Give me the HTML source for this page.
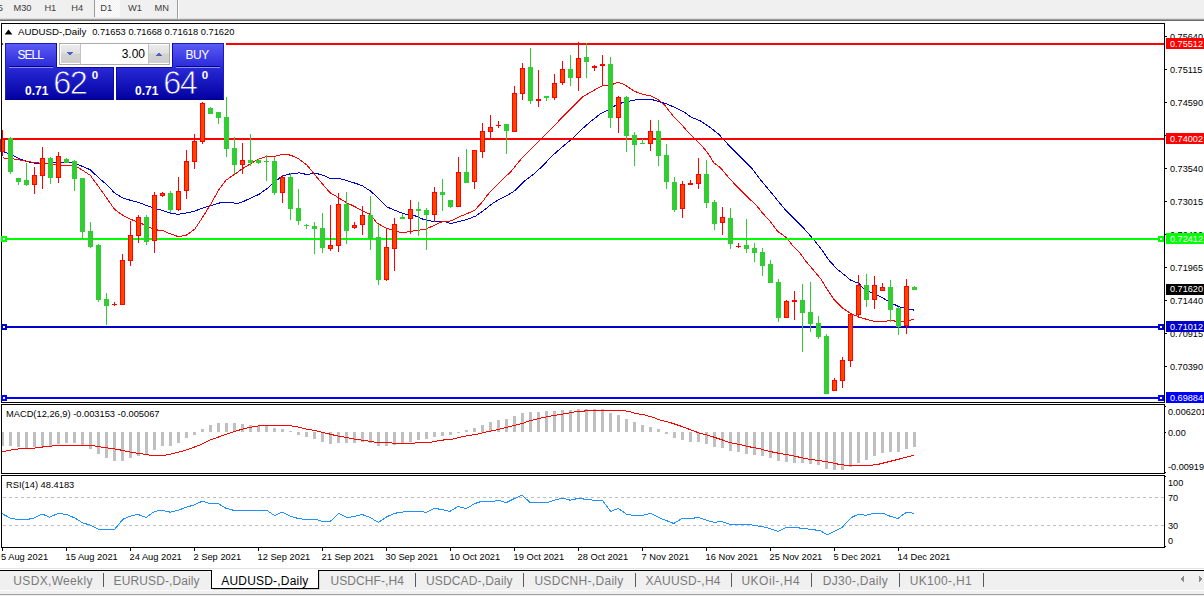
<!DOCTYPE html>
<html><head><meta charset="utf-8"><title>AUDUSD-,Daily</title>
<style>
html,body{margin:0;padding:0;background:#fff;overflow:hidden}
body{width:1204px;height:596px;font-family:"Liberation Sans",sans-serif}
svg{display:block;font-family:"Liberation Sans",sans-serif}
rect,polyline,line,polygon{shape-rendering:crispEdges}
</style></head><body>
<svg width="1204" height="596" viewBox="0 0 1204 596">
<defs>
<linearGradient id="gb" x1="0" y1="0" x2="0" y2="1"><stop offset="0" stop-color="#5c5cf8"/><stop offset="1" stop-color="#2a2ad8"/></linearGradient>
<linearGradient id="gp" x1="0" y1="0" x2="0" y2="1"><stop offset="0" stop-color="#2a2ad8"/><stop offset="1" stop-color="#0000a0"/></linearGradient>
<linearGradient id="gp2" gradientUnits="userSpaceOnUse" x1="0" y1="67" x2="0" y2="100"><stop offset="0" stop-color="#2a2ad8"/><stop offset="1" stop-color="#0000a0"/></linearGradient>
<pattern id="hatch" width="2" height="2" patternUnits="userSpaceOnUse"><rect width="2" height="2" fill="#f0f0f0"/><rect width="1" height="1" fill="#fff"/><rect x="1" y="1" width="1" height="1" fill="#fff"/></pattern>
<linearGradient id="gs" x1="0" y1="0" x2="0" y2="1"><stop offset="0" stop-color="#ececec"/><stop offset="0.45" stop-color="#e0e0e0"/><stop offset="0.5" stop-color="#d2d2d2"/><stop offset="1" stop-color="#cfcfcf"/></linearGradient>
</defs>
<rect x="0" y="0" width="1204" height="18" fill="#f0f0f0"/>
<rect x="0" y="18" width="1204" height="1" fill="#dcdcdc"/>
<rect x="0" y="19" width="1204" height="1" fill="#a0a0a0"/>
<rect x="0" y="20" width="1204" height="1" fill="#696969"/>
<rect x="95" y="0" width="25" height="17" fill="url(#hatch)"/>
<rect x="94" y="0" width="1" height="17" fill="#9a9a9a"/>
<rect x="177" y="0" width="1" height="19" fill="#a0a0a0"/>
<rect x="178" y="0" width="1" height="19" fill="#ffffff"/>
<text x="-2.2" y="10.8" font-size="9.3" fill="#3c3c3c" text-anchor="start" font-weight="normal">5</text>
<text x="13.4" y="10.8" font-size="9.3" fill="#3c3c3c" text-anchor="start" font-weight="normal">M30</text>
<text x="44.4" y="10.8" font-size="9.3" fill="#3c3c3c" text-anchor="start" font-weight="normal">H1</text>
<text x="71.3" y="10.8" font-size="9.3" fill="#3c3c3c" text-anchor="start" font-weight="normal">H4</text>
<text x="100.2" y="10.8" font-size="9.3" fill="#3c3c3c" text-anchor="start" font-weight="normal">D1</text>
<text x="128.0" y="10.8" font-size="9.3" fill="#3c3c3c" text-anchor="start" font-weight="normal">W1</text>
<text x="154.4" y="10.8" font-size="9.3" fill="#3c3c3c" text-anchor="start" font-weight="normal">MN</text>
<rect x="1" y="23" width="1164" height="1" fill="#000"/>
<rect x="1" y="23" width="1" height="380" fill="#000"/>
<rect x="1" y="402" width="1164" height="1" fill="#000"/>
<rect x="1" y="404" width="1164" height="1" fill="#000"/>
<rect x="1" y="404" width="1" height="70" fill="#000"/>
<rect x="1" y="473" width="1164" height="1" fill="#000"/>
<rect x="1" y="475" width="1164" height="1" fill="#000"/>
<rect x="1" y="475" width="1" height="73" fill="#000"/>
<rect x="1" y="547" width="1164" height="1" fill="#000"/>
<rect x="1164" y="23" width="1" height="380" fill="#000"/>
<rect x="1164" y="404" width="1" height="70" fill="#000"/>
<rect x="1164" y="475" width="1" height="73" fill="#000"/>
<rect x="1165" y="36" width="2" height="1" fill="#000"/>
<text x="1170" y="39.9" font-size="9.15" fill="#000" text-anchor="start" font-weight="normal">0.75640</text>
<rect x="1165" y="69" width="2" height="1" fill="#000"/>
<text x="1170" y="72.9" font-size="9.15" fill="#000" text-anchor="start" font-weight="normal">0.75115</text>
<rect x="1165" y="102" width="2" height="1" fill="#000"/>
<text x="1170" y="105.9" font-size="9.15" fill="#000" text-anchor="start" font-weight="normal">0.74590</text>
<rect x="1165" y="135" width="2" height="1" fill="#000"/>
<text x="1170" y="138.9" font-size="9.15" fill="#000" text-anchor="start" font-weight="normal">0.74065</text>
<rect x="1165" y="168" width="2" height="1" fill="#000"/>
<text x="1170" y="171.9" font-size="9.15" fill="#000" text-anchor="start" font-weight="normal">0.73540</text>
<rect x="1165" y="201" width="2" height="1" fill="#000"/>
<text x="1170" y="204.9" font-size="9.15" fill="#000" text-anchor="start" font-weight="normal">0.73015</text>
<rect x="1165" y="234" width="2" height="1" fill="#000"/>
<text x="1170" y="237.9" font-size="9.15" fill="#000" text-anchor="start" font-weight="normal">0.72490</text>
<rect x="1165" y="267" width="2" height="1" fill="#000"/>
<text x="1170" y="270.9" font-size="9.15" fill="#000" text-anchor="start" font-weight="normal">0.71965</text>
<rect x="1165" y="300" width="2" height="1" fill="#000"/>
<text x="1170" y="303.9" font-size="9.15" fill="#000" text-anchor="start" font-weight="normal">0.71440</text>
<rect x="1165" y="333" width="2" height="1" fill="#000"/>
<text x="1170" y="336.9" font-size="9.15" fill="#000" text-anchor="start" font-weight="normal">0.70915</text>
<rect x="1165" y="366" width="2" height="1" fill="#000"/>
<text x="1170" y="369.9" font-size="9.15" fill="#000" text-anchor="start" font-weight="normal">0.70390</text>
<polyline points="2.5,151.3 10.4,154.2 18.5,158.4 26.5,161.4 34.6,163.1 42.4,163.4 50.3,162.9 58.6,162.1 66.4,162.1 74.5,163.4 82.5,166.4 90.4,169.8 98.5,177.7 106.5,184.4 114.4,192.8 122.5,197.8 130.5,200.3 138.4,202.5 146.5,205.4 154.5,208.2 162.4,210.4 170.5,213.3 178.5,214.3 186.4,212.9 194.5,211.2 200.1,209.0 210.1,205.8 220.2,202.8 230.3,202.2 237.0,203.6 242.0,202.2 250.4,198.2 258.8,194.4 267.2,188.5 273.9,182.6 282.3,175.9 290.7,173.7 299.1,172.9 307.4,174.6 315.0,173.1 322.6,175.1 329.3,178.1 339.3,178.4 347.7,180.9 356.1,183.5 362.8,186.0 370.4,191.0 377.9,197.7 386.8,206.8 394.4,210.1 402.4,213.2 410.5,215.5 415.4,216.0 422.1,218.9 430.5,221.0 438.9,221.4 443.9,221.4 450.6,223.6 459.0,221.4 467.4,219.4 475.8,216.0 484.2,210.1 492.6,203.4 501.0,198.4 507.7,195.0 513.9,191.4 524.0,181.4 534.0,173.8 544.1,164.6 550.8,157.0 564.2,145.3 572.6,138.6 582.7,128.5 591.1,121.0 601.1,113.4 609.5,109.2 616.2,105.0 622.9,102.5 630.9,100.8 639.3,99.3 651.1,99.3 657.8,101.3 666.2,103.8 675.4,107.6 683.8,111.8 690.5,116.8 700.5,121.0 710.6,127.8 719.0,134.5 727.4,143.7 735.8,152.1 742.5,158.8 750.9,167.2 760.7,180.1 769.1,190.1 777.4,200.2 785.0,209.4 794.2,218.7 802.6,227.0 809.3,234.6 814.4,240.5 821.1,248.9 828.9,260.1 837.3,269.3 845.7,276.0 850.7,280.2 859.1,283.6 864.2,289.4 874.2,293.6 882.6,297.8 891.0,302.9 898.6,306.5 906.1,308.7 914.0,310.1" fill="none" stroke="#0000cd" stroke-width="1"/>
<polyline points="2.5,157.9 10.4,158.4 18.5,159.7 26.5,161.4 34.6,162.6 42.4,163.4 50.3,164.3 58.6,164.8 66.4,165.4 74.5,165.6 82.5,170.1 90.4,175.5 98.5,186.6 106.5,197.8 114.4,209.1 122.5,215.1 130.5,219.3 138.4,222.1 146.5,225.8 154.5,229.7 162.4,230.5 170.5,233.9 178.5,236.7 186.4,235.2 190.0,232.6 195.0,228.8 201.7,218.7 210.1,205.3 218.5,190.2 226.1,180.1 234.5,174.4 242.5,168.6 250.6,163.8 258.5,159.1 266.5,156.6 274.6,156.3 282.4,154.3 290.5,155.1 298.6,158.8 306.6,164.7 314.2,174.0 322.6,184.2 330.1,192.7 338.5,197.7 346.9,202.8 355.3,206.9 362.5,211.0 370.1,214.3 376.8,222.7 385.2,227.8 391.9,229.8 400.3,232.4 405.3,232.4 410.5,231.4 418.6,230.3 426.4,228.9 434.5,225.2 442.6,221.5 450.6,221.0 458.5,217.2 467.4,213.5 474.9,210.1 482.5,201.7 487.5,195.0 490.4,191.4 502.1,179.7 510.5,172.1 520.6,159.6 530.7,149.5 540.7,139.4 555.8,124.3 560.5,118.9 570.5,108.9 582.3,97.1 590.7,92.1 602.4,85.7 610.8,85.0 618.4,82.3 624.2,84.5 634.3,91.2 642.7,94.3 651.1,95.9 659.5,100.5 665.3,105.9 673.7,116.8 682.1,125.2 687.1,131.1 695.5,139.5 702.2,146.2 707.2,152.1 714.0,163.0 720.7,168.0 729.1,178.1 738.9,188.5 748.9,198.5 755.6,204.4 762.3,212.8 770.7,222.0 777.4,231.2 785.8,237.1 792.6,245.5 799.3,252.2 806.0,261.4 812.1,268.5 820.5,278.5 827.2,289.4 834.0,299.5 842.3,307.9 850.7,313.4 859.1,317.1 867.5,319.6 874.2,321.3 884.3,321.6 891.0,320.1 898.6,322.1 906.1,321.3 914.0,319.1" fill="none" stroke="#ff0000" stroke-width="1"/>
<rect x="2" y="43" width="1162" height="2" fill="#ff0000"/>
<rect x="1166" y="38" width="38" height="11" fill="#ff0000"/>
<text x="1170" y="47.2" font-size="9.15" fill="#fff" text-anchor="start" font-weight="normal">0.75512</text>
<rect x="2" y="138" width="1162" height="2" fill="#ff0000"/>
<rect x="1166" y="133" width="38" height="11" fill="#ff0000"/>
<text x="1170" y="142.2" font-size="9.15" fill="#fff" text-anchor="start" font-weight="normal">0.74002</text>
<rect x="2" y="238" width="1162" height="2" fill="#00ff00"/>
<rect x="1" y="236" width="6" height="6" fill="#00ff00"/>
<rect x="3" y="238" width="2" height="2" fill="#fff"/>
<rect x="1158" y="236" width="6" height="6" fill="#00ff00"/>
<rect x="1160" y="238" width="2" height="2" fill="#fff"/>
<rect x="1166" y="233" width="38" height="11" fill="#00ff00"/>
<text x="1170" y="242.2" font-size="9.15" fill="#fff" text-anchor="start" font-weight="normal">0.72412</text>
<rect x="2" y="326" width="1162" height="2" fill="#0000cd"/>
<rect x="1" y="324" width="6" height="6" fill="#0000cd"/>
<rect x="3" y="326" width="2" height="2" fill="#fff"/>
<rect x="1158" y="324" width="6" height="6" fill="#0000cd"/>
<rect x="1160" y="326" width="2" height="2" fill="#fff"/>
<rect x="1166" y="321" width="38" height="11" fill="#0000cd"/>
<text x="1170" y="330.2" font-size="9.15" fill="#fff" text-anchor="start" font-weight="normal">0.71012</text>
<rect x="2" y="397" width="1162" height="2" fill="#0000ff"/>
<rect x="1" y="395" width="6" height="6" fill="#0000ff"/>
<rect x="3" y="397" width="2" height="2" fill="#fff"/>
<rect x="1158" y="395" width="6" height="6" fill="#0000ff"/>
<rect x="1160" y="397" width="2" height="2" fill="#fff"/>
<rect x="1166" y="392" width="38" height="11" fill="#0000ff"/>
<text x="1170" y="401.2" font-size="9.15" fill="#fff" text-anchor="start" font-weight="normal">0.69884</text>
<rect x="2" y="130" width="1" height="26" fill="#ff0000"/>
<rect x="0" y="139" width="5" height="13" fill="#ff0000"/>
<rect x="1" y="140" width="3" height="11" fill="#ff4500"/>
<rect x="10" y="137" width="1" height="37" fill="#32cd32"/>
<rect x="8" y="138" width="5" height="34" fill="#32cd32"/>
<rect x="18" y="178" width="1" height="7" fill="#32cd32"/>
<rect x="16" y="178" width="5" height="4" fill="#32cd32"/>
<rect x="26" y="163" width="1" height="23" fill="#32cd32"/>
<rect x="24" y="180" width="5" height="5" fill="#32cd32"/>
<rect x="34" y="167" width="1" height="27" fill="#ff0000"/>
<rect x="32" y="175" width="5" height="10" fill="#ff0000"/>
<rect x="33" y="176" width="3" height="8" fill="#ff4500"/>
<rect x="42" y="147" width="1" height="42" fill="#ff0000"/>
<rect x="40" y="158" width="5" height="18" fill="#ff0000"/>
<rect x="41" y="159" width="3" height="16" fill="#ff4500"/>
<rect x="50" y="157" width="1" height="27" fill="#32cd32"/>
<rect x="48" y="158" width="5" height="20" fill="#32cd32"/>
<rect x="58" y="152" width="1" height="31" fill="#ff0000"/>
<rect x="56" y="156" width="5" height="22" fill="#ff0000"/>
<rect x="57" y="157" width="3" height="20" fill="#ff4500"/>
<rect x="66" y="158" width="1" height="5" fill="#32cd32"/>
<rect x="64" y="159" width="5" height="4" fill="#32cd32"/>
<rect x="74" y="160" width="1" height="31" fill="#32cd32"/>
<rect x="72" y="161" width="5" height="18" fill="#32cd32"/>
<rect x="82" y="178" width="1" height="62" fill="#32cd32"/>
<rect x="80" y="178" width="5" height="54" fill="#32cd32"/>
<rect x="90" y="222" width="1" height="26" fill="#32cd32"/>
<rect x="88" y="231" width="5" height="16" fill="#32cd32"/>
<rect x="98" y="244" width="1" height="58" fill="#32cd32"/>
<rect x="96" y="245" width="5" height="55" fill="#32cd32"/>
<rect x="106" y="293" width="1" height="32" fill="#32cd32"/>
<rect x="104" y="299" width="5" height="7" fill="#32cd32"/>
<rect x="114" y="302" width="1" height="4" fill="#ff0000"/>
<rect x="112" y="304" width="5" height="1" fill="#ff0000"/>
<rect x="122" y="254" width="1" height="51" fill="#ff0000"/>
<rect x="120" y="260" width="5" height="45" fill="#ff0000"/>
<rect x="121" y="261" width="3" height="43" fill="#ff4500"/>
<rect x="130" y="221" width="1" height="45" fill="#ff0000"/>
<rect x="128" y="235" width="5" height="26" fill="#ff0000"/>
<rect x="129" y="236" width="3" height="24" fill="#ff4500"/>
<rect x="138" y="215" width="1" height="28" fill="#ff0000"/>
<rect x="136" y="217" width="5" height="19" fill="#ff0000"/>
<rect x="137" y="218" width="3" height="17" fill="#ff4500"/>
<rect x="146" y="215" width="1" height="30" fill="#32cd32"/>
<rect x="144" y="217" width="5" height="25" fill="#32cd32"/>
<rect x="154" y="192" width="1" height="61" fill="#ff0000"/>
<rect x="152" y="195" width="5" height="46" fill="#ff0000"/>
<rect x="153" y="196" width="3" height="44" fill="#ff4500"/>
<rect x="162" y="192" width="1" height="5" fill="#ff0000"/>
<rect x="160" y="193" width="5" height="3" fill="#ff0000"/>
<rect x="161" y="194" width="3" height="1" fill="#ff4500"/>
<rect x="170" y="191" width="1" height="22" fill="#32cd32"/>
<rect x="168" y="193" width="5" height="17" fill="#32cd32"/>
<rect x="178" y="177" width="1" height="34" fill="#ff0000"/>
<rect x="176" y="191" width="5" height="19" fill="#ff0000"/>
<rect x="177" y="192" width="3" height="17" fill="#ff4500"/>
<rect x="186" y="150" width="1" height="49" fill="#ff0000"/>
<rect x="184" y="161" width="5" height="30" fill="#ff0000"/>
<rect x="185" y="162" width="3" height="28" fill="#ff4500"/>
<rect x="194" y="134" width="1" height="35" fill="#ff0000"/>
<rect x="192" y="141" width="5" height="21" fill="#ff0000"/>
<rect x="193" y="142" width="3" height="19" fill="#ff4500"/>
<rect x="202" y="102" width="1" height="42" fill="#ff0000"/>
<rect x="200" y="103" width="5" height="39" fill="#ff0000"/>
<rect x="201" y="104" width="3" height="37" fill="#ff4500"/>
<rect x="210" y="107" width="1" height="7" fill="#32cd32"/>
<rect x="208" y="108" width="5" height="6" fill="#32cd32"/>
<rect x="218" y="112" width="1" height="12" fill="#32cd32"/>
<rect x="216" y="112" width="5" height="6" fill="#32cd32"/>
<rect x="226" y="97" width="1" height="60" fill="#32cd32"/>
<rect x="224" y="117" width="5" height="32" fill="#32cd32"/>
<rect x="234" y="137" width="1" height="37" fill="#32cd32"/>
<rect x="232" y="148" width="5" height="17" fill="#32cd32"/>
<rect x="242" y="143" width="1" height="31" fill="#ff0000"/>
<rect x="240" y="160" width="5" height="5" fill="#ff0000"/>
<rect x="241" y="161" width="3" height="3" fill="#ff4500"/>
<rect x="250" y="134" width="1" height="32" fill="#32cd32"/>
<rect x="248" y="160" width="5" height="3" fill="#32cd32"/>
<rect x="258" y="159" width="1" height="5" fill="#32cd32"/>
<rect x="256" y="160" width="5" height="3" fill="#32cd32"/>
<rect x="266" y="155" width="1" height="26" fill="#32cd32"/>
<rect x="264" y="161" width="5" height="1" fill="#32cd32"/>
<rect x="274" y="157" width="1" height="38" fill="#32cd32"/>
<rect x="272" y="161" width="5" height="32" fill="#32cd32"/>
<rect x="282" y="175" width="1" height="28" fill="#ff0000"/>
<rect x="280" y="177" width="5" height="16" fill="#ff0000"/>
<rect x="281" y="178" width="3" height="14" fill="#ff4500"/>
<rect x="290" y="173" width="1" height="47" fill="#32cd32"/>
<rect x="288" y="177" width="5" height="32" fill="#32cd32"/>
<rect x="298" y="189" width="1" height="36" fill="#32cd32"/>
<rect x="296" y="208" width="5" height="13" fill="#32cd32"/>
<rect x="306" y="224" width="1" height="5" fill="#32cd32"/>
<rect x="304" y="225" width="5" height="1" fill="#32cd32"/>
<rect x="314" y="222" width="1" height="32" fill="#32cd32"/>
<rect x="312" y="226" width="5" height="3" fill="#32cd32"/>
<rect x="322" y="213" width="1" height="40" fill="#32cd32"/>
<rect x="320" y="228" width="5" height="20" fill="#32cd32"/>
<rect x="330" y="205" width="1" height="46" fill="#ff0000"/>
<rect x="328" y="245" width="5" height="4" fill="#ff0000"/>
<rect x="329" y="246" width="3" height="2" fill="#ff4500"/>
<rect x="338" y="193" width="1" height="59" fill="#ff0000"/>
<rect x="336" y="204" width="5" height="42" fill="#ff0000"/>
<rect x="337" y="205" width="3" height="40" fill="#ff4500"/>
<rect x="346" y="192" width="1" height="52" fill="#32cd32"/>
<rect x="344" y="204" width="5" height="27" fill="#32cd32"/>
<rect x="354" y="222" width="1" height="7" fill="#ff0000"/>
<rect x="352" y="225" width="5" height="3" fill="#ff0000"/>
<rect x="353" y="226" width="3" height="1" fill="#ff4500"/>
<rect x="362" y="206" width="1" height="29" fill="#ff0000"/>
<rect x="360" y="215" width="5" height="10" fill="#ff0000"/>
<rect x="361" y="216" width="3" height="8" fill="#ff4500"/>
<rect x="370" y="196" width="1" height="54" fill="#32cd32"/>
<rect x="368" y="215" width="5" height="24" fill="#32cd32"/>
<rect x="378" y="224" width="1" height="61" fill="#32cd32"/>
<rect x="376" y="237" width="5" height="43" fill="#32cd32"/>
<rect x="386" y="229" width="1" height="52" fill="#ff0000"/>
<rect x="384" y="247" width="5" height="33" fill="#ff0000"/>
<rect x="385" y="248" width="3" height="31" fill="#ff4500"/>
<rect x="394" y="218" width="1" height="53" fill="#ff0000"/>
<rect x="392" y="224" width="5" height="25" fill="#ff0000"/>
<rect x="393" y="225" width="3" height="23" fill="#ff4500"/>
<rect x="402" y="214" width="1" height="5" fill="#32cd32"/>
<rect x="400" y="217" width="5" height="2" fill="#32cd32"/>
<rect x="410" y="200" width="1" height="34" fill="#ff0000"/>
<rect x="408" y="209" width="5" height="10" fill="#ff0000"/>
<rect x="409" y="210" width="3" height="8" fill="#ff4500"/>
<rect x="418" y="202" width="1" height="34" fill="#32cd32"/>
<rect x="416" y="209" width="5" height="2" fill="#32cd32"/>
<rect x="426" y="208" width="1" height="42" fill="#32cd32"/>
<rect x="424" y="210" width="5" height="5" fill="#32cd32"/>
<rect x="434" y="187" width="1" height="35" fill="#ff0000"/>
<rect x="432" y="192" width="5" height="23" fill="#ff0000"/>
<rect x="433" y="193" width="3" height="21" fill="#ff4500"/>
<rect x="442" y="179" width="1" height="32" fill="#32cd32"/>
<rect x="440" y="192" width="5" height="3" fill="#32cd32"/>
<rect x="450" y="200" width="1" height="8" fill="#32cd32"/>
<rect x="448" y="200" width="5" height="7" fill="#32cd32"/>
<rect x="458" y="157" width="1" height="50" fill="#ff0000"/>
<rect x="456" y="172" width="5" height="35" fill="#ff0000"/>
<rect x="457" y="173" width="3" height="33" fill="#ff4500"/>
<rect x="466" y="149" width="1" height="34" fill="#32cd32"/>
<rect x="464" y="172" width="5" height="11" fill="#32cd32"/>
<rect x="474" y="150" width="1" height="39" fill="#ff0000"/>
<rect x="472" y="150" width="5" height="32" fill="#ff0000"/>
<rect x="473" y="151" width="3" height="30" fill="#ff4500"/>
<rect x="482" y="123" width="1" height="35" fill="#ff0000"/>
<rect x="480" y="131" width="5" height="21" fill="#ff0000"/>
<rect x="481" y="132" width="3" height="19" fill="#ff4500"/>
<rect x="490" y="115" width="1" height="24" fill="#ff0000"/>
<rect x="488" y="127" width="5" height="5" fill="#ff0000"/>
<rect x="489" y="128" width="3" height="3" fill="#ff4500"/>
<rect x="498" y="121" width="1" height="7" fill="#ff0000"/>
<rect x="496" y="125" width="5" height="1" fill="#ff0000"/>
<rect x="506" y="124" width="1" height="30" fill="#32cd32"/>
<rect x="504" y="124" width="5" height="7" fill="#32cd32"/>
<rect x="514" y="86" width="1" height="46" fill="#ff0000"/>
<rect x="512" y="93" width="5" height="39" fill="#ff0000"/>
<rect x="513" y="94" width="3" height="37" fill="#ff4500"/>
<rect x="522" y="63" width="1" height="37" fill="#ff0000"/>
<rect x="520" y="68" width="5" height="26" fill="#ff0000"/>
<rect x="521" y="69" width="3" height="24" fill="#ff4500"/>
<rect x="530" y="48" width="1" height="56" fill="#32cd32"/>
<rect x="528" y="67" width="5" height="34" fill="#32cd32"/>
<rect x="538" y="70" width="1" height="37" fill="#ff0000"/>
<rect x="536" y="99" width="5" height="2" fill="#ff0000"/>
<rect x="546" y="96" width="1" height="5" fill="#32cd32"/>
<rect x="544" y="96" width="5" height="2" fill="#32cd32"/>
<rect x="554" y="74" width="1" height="26" fill="#ff0000"/>
<rect x="552" y="83" width="5" height="15" fill="#ff0000"/>
<rect x="553" y="84" width="3" height="13" fill="#ff4500"/>
<rect x="562" y="61" width="1" height="24" fill="#ff0000"/>
<rect x="560" y="69" width="5" height="14" fill="#ff0000"/>
<rect x="561" y="70" width="3" height="12" fill="#ff4500"/>
<rect x="570" y="55" width="1" height="31" fill="#32cd32"/>
<rect x="568" y="69" width="5" height="9" fill="#32cd32"/>
<rect x="578" y="42" width="1" height="49" fill="#ff0000"/>
<rect x="576" y="58" width="5" height="20" fill="#ff0000"/>
<rect x="577" y="59" width="3" height="18" fill="#ff4500"/>
<rect x="586" y="43" width="1" height="35" fill="#32cd32"/>
<rect x="584" y="57" width="5" height="5" fill="#32cd32"/>
<rect x="594" y="65" width="1" height="6" fill="#ff0000"/>
<rect x="592" y="66" width="5" height="2" fill="#ff0000"/>
<rect x="602" y="55" width="1" height="30" fill="#ff0000"/>
<rect x="600" y="64" width="5" height="2" fill="#ff0000"/>
<rect x="610" y="57" width="1" height="71" fill="#32cd32"/>
<rect x="608" y="64" width="5" height="54" fill="#32cd32"/>
<rect x="618" y="96" width="1" height="37" fill="#ff0000"/>
<rect x="616" y="97" width="5" height="21" fill="#ff0000"/>
<rect x="617" y="98" width="3" height="19" fill="#ff4500"/>
<rect x="626" y="96" width="1" height="56" fill="#32cd32"/>
<rect x="624" y="97" width="5" height="39" fill="#32cd32"/>
<rect x="634" y="132" width="1" height="34" fill="#32cd32"/>
<rect x="632" y="135" width="5" height="10" fill="#32cd32"/>
<rect x="642" y="139" width="1" height="5" fill="#32cd32"/>
<rect x="640" y="143" width="5" height="1" fill="#32cd32"/>
<rect x="650" y="120" width="1" height="31" fill="#ff0000"/>
<rect x="648" y="131" width="5" height="13" fill="#ff0000"/>
<rect x="649" y="132" width="3" height="11" fill="#ff4500"/>
<rect x="658" y="120" width="1" height="46" fill="#32cd32"/>
<rect x="656" y="131" width="5" height="25" fill="#32cd32"/>
<rect x="666" y="144" width="1" height="45" fill="#32cd32"/>
<rect x="664" y="155" width="5" height="27" fill="#32cd32"/>
<rect x="674" y="177" width="1" height="35" fill="#32cd32"/>
<rect x="672" y="182" width="5" height="28" fill="#32cd32"/>
<rect x="682" y="181" width="1" height="37" fill="#ff0000"/>
<rect x="680" y="184" width="5" height="25" fill="#ff0000"/>
<rect x="681" y="185" width="3" height="23" fill="#ff4500"/>
<rect x="690" y="180" width="1" height="5" fill="#ff0000"/>
<rect x="688" y="183" width="5" height="2" fill="#ff0000"/>
<rect x="698" y="158" width="1" height="31" fill="#ff0000"/>
<rect x="696" y="174" width="5" height="10" fill="#ff0000"/>
<rect x="697" y="175" width="3" height="8" fill="#ff4500"/>
<rect x="706" y="160" width="1" height="48" fill="#32cd32"/>
<rect x="704" y="174" width="5" height="29" fill="#32cd32"/>
<rect x="714" y="200" width="1" height="30" fill="#32cd32"/>
<rect x="712" y="202" width="5" height="22" fill="#32cd32"/>
<rect x="722" y="207" width="1" height="28" fill="#ff0000"/>
<rect x="720" y="217" width="5" height="6" fill="#ff0000"/>
<rect x="721" y="218" width="3" height="4" fill="#ff4500"/>
<rect x="730" y="208" width="1" height="41" fill="#32cd32"/>
<rect x="728" y="218" width="5" height="26" fill="#32cd32"/>
<rect x="738" y="243" width="1" height="5" fill="#ff0000"/>
<rect x="736" y="246" width="5" height="1" fill="#ff0000"/>
<rect x="746" y="219" width="1" height="34" fill="#32cd32"/>
<rect x="744" y="245" width="5" height="4" fill="#32cd32"/>
<rect x="754" y="243" width="1" height="19" fill="#32cd32"/>
<rect x="752" y="248" width="5" height="5" fill="#32cd32"/>
<rect x="762" y="248" width="1" height="28" fill="#32cd32"/>
<rect x="760" y="252" width="5" height="14" fill="#32cd32"/>
<rect x="770" y="260" width="1" height="23" fill="#32cd32"/>
<rect x="768" y="264" width="5" height="19" fill="#32cd32"/>
<rect x="778" y="279" width="1" height="43" fill="#32cd32"/>
<rect x="776" y="282" width="5" height="36" fill="#32cd32"/>
<rect x="786" y="300" width="1" height="18" fill="#ff0000"/>
<rect x="784" y="301" width="5" height="17" fill="#ff0000"/>
<rect x="785" y="302" width="3" height="15" fill="#ff4500"/>
<rect x="794" y="291" width="1" height="29" fill="#ff0000"/>
<rect x="792" y="300" width="5" height="2" fill="#ff0000"/>
<rect x="802" y="284" width="1" height="68" fill="#32cd32"/>
<rect x="800" y="300" width="5" height="13" fill="#32cd32"/>
<rect x="810" y="282" width="1" height="50" fill="#32cd32"/>
<rect x="808" y="312" width="5" height="12" fill="#32cd32"/>
<rect x="818" y="316" width="1" height="23" fill="#32cd32"/>
<rect x="816" y="323" width="5" height="14" fill="#32cd32"/>
<rect x="826" y="334" width="1" height="60" fill="#32cd32"/>
<rect x="824" y="336" width="5" height="58" fill="#32cd32"/>
<rect x="834" y="378" width="1" height="13" fill="#ff0000"/>
<rect x="832" y="380" width="5" height="11" fill="#ff0000"/>
<rect x="833" y="381" width="3" height="9" fill="#ff4500"/>
<rect x="842" y="357" width="1" height="31" fill="#ff0000"/>
<rect x="840" y="360" width="5" height="21" fill="#ff0000"/>
<rect x="841" y="361" width="3" height="19" fill="#ff4500"/>
<rect x="850" y="314" width="1" height="53" fill="#ff0000"/>
<rect x="848" y="314" width="5" height="47" fill="#ff0000"/>
<rect x="849" y="315" width="3" height="45" fill="#ff4500"/>
<rect x="858" y="275" width="1" height="43" fill="#ff0000"/>
<rect x="856" y="285" width="5" height="30" fill="#ff0000"/>
<rect x="857" y="286" width="3" height="28" fill="#ff4500"/>
<rect x="866" y="274" width="1" height="33" fill="#32cd32"/>
<rect x="864" y="285" width="5" height="15" fill="#32cd32"/>
<rect x="874" y="276" width="1" height="33" fill="#ff0000"/>
<rect x="872" y="285" width="5" height="15" fill="#ff0000"/>
<rect x="873" y="286" width="3" height="13" fill="#ff4500"/>
<rect x="882" y="283" width="1" height="8" fill="#ff0000"/>
<rect x="880" y="287" width="5" height="4" fill="#ff0000"/>
<rect x="881" y="288" width="3" height="2" fill="#ff4500"/>
<rect x="890" y="280" width="1" height="42" fill="#32cd32"/>
<rect x="888" y="287" width="5" height="23" fill="#32cd32"/>
<rect x="898" y="307" width="1" height="28" fill="#32cd32"/>
<rect x="896" y="308" width="5" height="19" fill="#32cd32"/>
<rect x="906" y="279" width="1" height="55" fill="#ff0000"/>
<rect x="904" y="286" width="5" height="40" fill="#ff0000"/>
<rect x="905" y="287" width="3" height="38" fill="#ff4500"/>
<rect x="914" y="286" width="1" height="4" fill="#32cd32"/>
<rect x="912" y="287" width="5" height="3" fill="#32cd32"/>
<rect x="1166" y="284" width="38" height="11" fill="#000"/>
<text x="1170" y="292.2" font-size="9.15" fill="#fff" text-anchor="start" font-weight="normal">0.71620</text>
<rect x="1" y="23" width="1" height="380" fill="#000"/>
<rect x="1" y="236" width="6" height="6" fill="#00ff00"/>
<rect x="3" y="238" width="2" height="2" fill="#fff"/>
<rect x="1" y="324" width="6" height="6" fill="#0000cd"/>
<rect x="3" y="326" width="2" height="2" fill="#fff"/>
<rect x="1" y="395" width="6" height="6" fill="#0000ff"/>
<rect x="3" y="397" width="2" height="2" fill="#fff"/>
<polygon points="4.6,34.4 12.4,34.4 8.5,29.6" fill="#000" style="shape-rendering:auto"/>
<text x="18" y="35" font-size="9.700000000000001" fill="#000" text-anchor="start" font-weight="normal">AUDUSD-,Daily</text>
<text x="92.2" y="35" font-size="9.3" fill="#000" text-anchor="start" font-weight="normal">0.71653 0.71668 0.71618 0.71620</text>
<rect x="3" y="41" width="223" height="61" fill="#fff"/>
<rect x="5" y="43" width="52" height="24" fill="url(#gb)"/>
<rect x="172" y="43" width="52" height="24" fill="url(#gb)"/>
<rect x="5" y="67" width="109" height="33" fill="url(#gp)"/>
<rect x="116" y="67" width="108" height="33" fill="url(#gp)"/>
<rect x="5" y="43" width="52" height="1" fill="#1c1cc0"/>
<rect x="172" y="43" width="52" height="1" fill="#1c1cc0"/>
<rect x="5" y="43" width="1" height="57" fill="#1c1cc0"/>
<rect x="223" y="43" width="1" height="57" fill="#1c1cc0"/>
<rect x="9" y="66" width="44" height="1" fill="#00008b"/>
<rect x="176" y="66" width="44" height="1" fill="#00008b"/>
<rect x="9" y="67" width="44" height="1" fill="#8c8cff"/>
<rect x="176" y="67" width="44" height="1" fill="#8c8cff"/>
<rect x="56" y="43" width="1" height="24" fill="#0a0aa8"/>
<rect x="172" y="43" width="1" height="24" fill="#0a0aa8"/>
<rect x="57" y="67" width="57" height="1" fill="#0a0aa8"/>
<rect x="116" y="67" width="56" height="1" fill="#0a0aa8"/>
<rect x="5" y="99" width="109" height="1" fill="#00008b"/>
<rect x="116" y="99" width="108" height="1" fill="#00008b"/>
<rect x="113" y="67" width="1" height="33" fill="#0a0aa8"/>
<rect x="116" y="67" width="1" height="33" fill="#0a0aa8"/>
<rect x="59" y="43" width="111" height="22" fill="#ababab"/>
<rect x="60" y="44" width="109" height="20" fill="#fff"/>
<rect x="61" y="45" width="19" height="18" fill="url(#gs)"/>
<rect x="80" y="44" width="1" height="20" fill="#c4c4c4"/>
<rect x="149" y="45" width="20" height="18" fill="url(#gs)"/>
<rect x="148" y="44" width="1" height="20" fill="#c4c4c4"/>
<polygon points="67,52 73,52 70,55.5" fill="#5060c0"/>
<polygon points="156,55.5 162,55.5 159,52" fill="#5060c0"/>
<text x="145" y="58" font-size="12" fill="#000" text-anchor="end" font-weight="normal">3.00</text>
<text x="17.5" y="59" font-size="12" fill="#fff" text-anchor="start" font-weight="normal" letter-spacing="-1">SELL</text>
<text x="185.5" y="59" font-size="12" fill="#fff" text-anchor="start" font-weight="normal" letter-spacing="-0.5">BUY</text>
<text x="25.0" y="94.7" font-size="12" fill="#fff" text-anchor="start" font-weight="bold">0.71</text>
<text x="53.3" y="94.2" font-size="32.5" fill="#fff" text-anchor="start" font-weight="normal" letter-spacing="-1.5" stroke="url(#gp2)" stroke-width="0.8" paint-order="fill stroke">62</text>
<text x="91.8" y="78.8" font-size="11.5" fill="#fff" text-anchor="start" font-weight="bold">0</text>
<text x="135.0" y="94.7" font-size="12" fill="#fff" text-anchor="start" font-weight="bold">0.71</text>
<text x="163.3" y="94.2" font-size="32.5" fill="#fff" text-anchor="start" font-weight="normal" letter-spacing="-1.5" stroke="url(#gp2)" stroke-width="0.8" paint-order="fill stroke">64</text>
<text x="201.8" y="78.8" font-size="11.5" fill="#fff" text-anchor="start" font-weight="bold">0</text>
<rect x="1" y="432" width="3" height="14" fill="#c0c0c0"/>
<rect x="9" y="432" width="3" height="14" fill="#c0c0c0"/>
<rect x="17" y="432" width="3" height="15" fill="#c0c0c0"/>
<rect x="25" y="432" width="3" height="16" fill="#c0c0c0"/>
<rect x="33" y="432" width="3" height="15" fill="#c0c0c0"/>
<rect x="41" y="432" width="3" height="14" fill="#c0c0c0"/>
<rect x="49" y="432" width="3" height="14" fill="#c0c0c0"/>
<rect x="57" y="432" width="3" height="12" fill="#c0c0c0"/>
<rect x="65" y="432" width="3" height="11" fill="#c0c0c0"/>
<rect x="73" y="432" width="3" height="11" fill="#c0c0c0"/>
<rect x="81" y="432" width="3" height="13" fill="#c0c0c0"/>
<rect x="89" y="432" width="3" height="17" fill="#c0c0c0"/>
<rect x="97" y="432" width="3" height="22" fill="#c0c0c0"/>
<rect x="105" y="432" width="3" height="26" fill="#c0c0c0"/>
<rect x="113" y="432" width="3" height="29" fill="#c0c0c0"/>
<rect x="121" y="432" width="3" height="29" fill="#c0c0c0"/>
<rect x="129" y="432" width="3" height="26" fill="#c0c0c0"/>
<rect x="137" y="432" width="3" height="24" fill="#c0c0c0"/>
<rect x="145" y="432" width="3" height="22" fill="#c0c0c0"/>
<rect x="153" y="432" width="3" height="18" fill="#c0c0c0"/>
<rect x="161" y="432" width="3" height="14" fill="#c0c0c0"/>
<rect x="169" y="432" width="3" height="14" fill="#c0c0c0"/>
<rect x="177" y="432" width="3" height="11" fill="#c0c0c0"/>
<rect x="185" y="432" width="3" height="6" fill="#c0c0c0"/>
<rect x="193" y="432" width="3" height="3" fill="#c0c0c0"/>
<rect x="201" y="429" width="3" height="3" fill="#c0c0c0"/>
<rect x="209" y="425" width="3" height="7" fill="#c0c0c0"/>
<rect x="217" y="423" width="3" height="9" fill="#c0c0c0"/>
<rect x="225" y="423" width="3" height="9" fill="#c0c0c0"/>
<rect x="233" y="423" width="3" height="9" fill="#c0c0c0"/>
<rect x="241" y="424" width="3" height="8" fill="#c0c0c0"/>
<rect x="249" y="425" width="3" height="7" fill="#c0c0c0"/>
<rect x="257" y="426" width="3" height="6" fill="#c0c0c0"/>
<rect x="265" y="426" width="3" height="6" fill="#c0c0c0"/>
<rect x="273" y="428" width="3" height="4" fill="#c0c0c0"/>
<rect x="281" y="429" width="3" height="3" fill="#c0c0c0"/>
<rect x="289" y="431" width="3" height="1" fill="#c0c0c0"/>
<rect x="297" y="432" width="3" height="3" fill="#c0c0c0"/>
<rect x="305" y="432" width="3" height="5" fill="#c0c0c0"/>
<rect x="313" y="432" width="3" height="7" fill="#c0c0c0"/>
<rect x="321" y="432" width="3" height="10" fill="#c0c0c0"/>
<rect x="329" y="432" width="3" height="12" fill="#c0c0c0"/>
<rect x="337" y="432" width="3" height="11" fill="#c0c0c0"/>
<rect x="345" y="432" width="3" height="11" fill="#c0c0c0"/>
<rect x="353" y="432" width="3" height="11" fill="#c0c0c0"/>
<rect x="361" y="432" width="3" height="10" fill="#c0c0c0"/>
<rect x="369" y="432" width="3" height="11" fill="#c0c0c0"/>
<rect x="377" y="432" width="3" height="14" fill="#c0c0c0"/>
<rect x="385" y="432" width="3" height="14" fill="#c0c0c0"/>
<rect x="393" y="432" width="3" height="13" fill="#c0c0c0"/>
<rect x="401" y="432" width="3" height="12" fill="#c0c0c0"/>
<rect x="409" y="432" width="3" height="10" fill="#c0c0c0"/>
<rect x="417" y="432" width="3" height="8" fill="#c0c0c0"/>
<rect x="425" y="432" width="3" height="7" fill="#c0c0c0"/>
<rect x="433" y="432" width="3" height="5" fill="#c0c0c0"/>
<rect x="441" y="432" width="3" height="4" fill="#c0c0c0"/>
<rect x="449" y="432" width="3" height="3" fill="#c0c0c0"/>
<rect x="457" y="432" width="3" height="1" fill="#c0c0c0"/>
<rect x="465" y="430" width="3" height="2" fill="#c0c0c0"/>
<rect x="473" y="428" width="3" height="4" fill="#c0c0c0"/>
<rect x="481" y="425" width="3" height="7" fill="#c0c0c0"/>
<rect x="489" y="422" width="3" height="10" fill="#c0c0c0"/>
<rect x="497" y="420" width="3" height="12" fill="#c0c0c0"/>
<rect x="505" y="419" width="3" height="13" fill="#c0c0c0"/>
<rect x="513" y="416" width="3" height="16" fill="#c0c0c0"/>
<rect x="521" y="413" width="3" height="19" fill="#c0c0c0"/>
<rect x="529" y="412" width="3" height="20" fill="#c0c0c0"/>
<rect x="537" y="412" width="3" height="20" fill="#c0c0c0"/>
<rect x="545" y="411" width="3" height="21" fill="#c0c0c0"/>
<rect x="553" y="411" width="3" height="21" fill="#c0c0c0"/>
<rect x="561" y="410" width="3" height="22" fill="#c0c0c0"/>
<rect x="569" y="410" width="3" height="22" fill="#c0c0c0"/>
<rect x="577" y="409" width="3" height="23" fill="#c0c0c0"/>
<rect x="585" y="409" width="3" height="23" fill="#c0c0c0"/>
<rect x="593" y="409" width="3" height="23" fill="#c0c0c0"/>
<rect x="601" y="409" width="3" height="23" fill="#c0c0c0"/>
<rect x="609" y="413" width="3" height="19" fill="#c0c0c0"/>
<rect x="617" y="415" width="3" height="17" fill="#c0c0c0"/>
<rect x="625" y="419" width="3" height="13" fill="#c0c0c0"/>
<rect x="633" y="422" width="3" height="10" fill="#c0c0c0"/>
<rect x="641" y="425" width="3" height="7" fill="#c0c0c0"/>
<rect x="649" y="427" width="3" height="5" fill="#c0c0c0"/>
<rect x="657" y="429" width="3" height="3" fill="#c0c0c0"/>
<rect x="665" y="432" width="3" height="2" fill="#c0c0c0"/>
<rect x="673" y="432" width="3" height="6" fill="#c0c0c0"/>
<rect x="681" y="432" width="3" height="8" fill="#c0c0c0"/>
<rect x="689" y="432" width="3" height="10" fill="#c0c0c0"/>
<rect x="697" y="432" width="3" height="10" fill="#c0c0c0"/>
<rect x="705" y="432" width="3" height="12" fill="#c0c0c0"/>
<rect x="713" y="432" width="3" height="15" fill="#c0c0c0"/>
<rect x="721" y="432" width="3" height="16" fill="#c0c0c0"/>
<rect x="729" y="432" width="3" height="19" fill="#c0c0c0"/>
<rect x="737" y="432" width="3" height="20" fill="#c0c0c0"/>
<rect x="745" y="432" width="3" height="22" fill="#c0c0c0"/>
<rect x="753" y="432" width="3" height="23" fill="#c0c0c0"/>
<rect x="761" y="432" width="3" height="24" fill="#c0c0c0"/>
<rect x="769" y="432" width="3" height="26" fill="#c0c0c0"/>
<rect x="777" y="432" width="3" height="29" fill="#c0c0c0"/>
<rect x="785" y="432" width="3" height="30" fill="#c0c0c0"/>
<rect x="793" y="432" width="3" height="31" fill="#c0c0c0"/>
<rect x="801" y="432" width="3" height="31" fill="#c0c0c0"/>
<rect x="809" y="432" width="3" height="32" fill="#c0c0c0"/>
<rect x="817" y="432" width="3" height="33" fill="#c0c0c0"/>
<rect x="825" y="432" width="3" height="37" fill="#c0c0c0"/>
<rect x="833" y="432" width="3" height="38" fill="#c0c0c0"/>
<rect x="841" y="432" width="3" height="38" fill="#c0c0c0"/>
<rect x="849" y="432" width="3" height="35" fill="#c0c0c0"/>
<rect x="857" y="432" width="3" height="31" fill="#c0c0c0"/>
<rect x="865" y="432" width="3" height="28" fill="#c0c0c0"/>
<rect x="873" y="432" width="3" height="24" fill="#c0c0c0"/>
<rect x="881" y="432" width="3" height="21" fill="#c0c0c0"/>
<rect x="889" y="432" width="3" height="20" fill="#c0c0c0"/>
<rect x="897" y="432" width="3" height="20" fill="#c0c0c0"/>
<rect x="905" y="432" width="3" height="17" fill="#c0c0c0"/>
<rect x="913" y="432" width="3" height="15" fill="#c0c0c0"/>
<polyline points="1.7,451.8 10.0,450.2 18.3,449.0 29.9,448.7 39.9,447.3 49.8,446.2 63.1,445.2 76.4,445.2 89.7,445.2 99.7,446.8 109.6,448.2 119.6,449.8 129.6,452.0 139.5,453.5 151.2,455.3 164.5,455.3 174.4,453.2 184.4,450.7 190.0,448.7 200.0,444.9 209.9,440.2 219.9,436.5 229.9,432.9 239.8,429.9 249.8,427.4 259.8,425.7 266.4,425.2 286.3,425.2 296.3,426.6 306.3,429.1 316.2,430.7 326.2,433.2 336.2,435.7 346.1,437.4 356.1,439.4 366.1,440.7 376.0,442.4 390.0,442.4 393.3,443.5 413.2,443.5 416.5,442.4 429.8,442.4 439.8,440.4 453.1,439.0 463.1,436.5 476.3,434.4 486.3,431.9 496.3,429.9 506.2,427.4 516.2,424.9 522.9,423.3 529.5,420.8 539.5,418.3 549.4,416.3 559.4,414.6 569.4,413.0 576.6,411.3 589.9,410.8 621.5,410.3 628.1,411.3 636.4,413.6 644.8,415.0 653.1,417.4 659.7,419.9 669.7,422.4 679.6,425.7 689.6,429.4 699.6,433.2 709.5,435.7 719.5,439.0 729.5,442.4 739.4,444.5 749.4,446.8 759.4,448.7 770.0,451.5 779.9,453.5 789.9,455.1 799.9,457.3 809.8,459.3 819.8,460.6 829.8,462.3 839.7,464.5 849.7,465.6 869.6,465.6 879.6,464.0 889.6,461.5 899.5,459.0 914.0,455.3" fill="none" stroke="#ff0000" stroke-width="1"/>
<rect x="1" y="404" width="1" height="70" fill="#000"/>
<text x="6" y="417" font-size="9.3" fill="#000" text-anchor="start" font-weight="normal">MACD(12,26,9) -0.003153 -0.005067</text>
<rect x="1165" y="406" width="1" height="1" fill="#000"/>
<rect x="1165" y="432" width="1" height="1" fill="#000"/>
<rect x="1165" y="472" width="1" height="1" fill="#000"/>
<rect x="1165" y="476" width="1" height="1" fill="#000"/>
<rect x="1165" y="546" width="1" height="1" fill="#000"/>
<text x="1168" y="414.9" font-size="9.15" fill="#000" text-anchor="start" font-weight="normal">0.006201</text>
<text x="1168" y="435.8" font-size="9.15" fill="#000" text-anchor="start" font-weight="normal">0.00</text>
<text x="1168" y="469.9" font-size="9.15" fill="#000" text-anchor="start" font-weight="normal">-0.00919</text>
<line x1="3" y1="497.5" x2="1164" y2="497.5" stroke="#c0c0c0" stroke-width="1" stroke-dasharray="3 3"/>
<line x1="3" y1="525.5" x2="1164" y2="525.5" stroke="#c0c0c0" stroke-width="1" stroke-dasharray="3 3"/>
<polyline points="1.7,513.4 10.0,518.0 16.6,519.3 28.2,519.3 34.0,518.0 42.0,513.9 49.8,517.2 58.1,513.4 66.4,514.4 74.7,518.0 83.0,523.0 90.5,525.2 98.8,529.3 114.6,529.3 122.9,519.3 129.6,516.4 137.9,514.4 146.2,517.5 154.5,511.4 162.0,510.2 170.3,512.2 178.6,510.2 186.0,507.2 193.5,505.2 202.5,501.1 209.9,503.6 218.2,503.6 225.7,508.1 233.2,510.2 266.4,510.2 274.7,515.5 282.2,512.2 290.5,516.4 298.0,518.4 304.6,519.3 316.2,519.3 322.1,521.3 330.4,521.3 338.7,513.4 347.0,517.7 354.5,516.4 361.9,514.4 370.2,517.5 378.5,522.5 386.6,516.9 394.1,513.4 401.6,512.2 406.6,511.4 421.5,511.4 425.7,512.5 434.0,508.4 441.5,509.4 449.8,511.4 458.1,506.4 466.4,508.6 474.7,503.6 481.3,501.4 493.0,501.4 498.8,500.2 506.2,502.6 513.7,498.9 522.0,495.3 530.3,502.6 546.9,502.6 554.4,500.2 562.7,498.1 570.2,500.2 578.3,498.4 582.5,498.4 584.1,499.4 589.9,499.4 592.4,500.2 602.4,500.2 610.7,511.4 618.2,508.4 626.5,514.2 632.3,515.2 643.1,515.2 650.6,513.4 659.7,518.0 666.3,520.5 673.8,523.5 682.1,518.4 692.9,518.4 697.9,517.2 706.2,520.2 714.5,522.5 721.2,521.3 729.5,524.3 750.2,524.3 752.7,525.5 761.0,526.3 768.3,528.0 778.3,531.6 785.7,527.5 798.2,527.5 800.7,528.5 806.5,528.5 809.0,529.3 814.0,529.3 816.5,530.5 819.8,530.5 827.3,534.6 834.8,531.3 842.2,527.2 851.4,517.5 858.0,514.4 862.2,514.4 865.5,515.5 873.0,513.4 883.8,513.4 890.4,516.4 897.9,518.4 906.2,512.5 910.3,512.5 914.0,513.5" fill="none" stroke="#1e90ff" stroke-width="1"/>
<rect x="1" y="475" width="1" height="73" fill="#000"/>
<text x="6" y="488" font-size="9.3" fill="#000" text-anchor="start" font-weight="normal">RSI(14) 48.4183</text>
<text x="1168" y="485.9" font-size="9.15" fill="#000" text-anchor="start" font-weight="normal">100</text>
<text x="1168" y="500.9" font-size="9.15" fill="#000" text-anchor="start" font-weight="normal">70</text>
<text x="1168" y="528.8" font-size="9.15" fill="#000" text-anchor="start" font-weight="normal">30</text>
<text x="1168" y="543.8" font-size="9.15" fill="#000" text-anchor="start" font-weight="normal">0</text>
<rect x="2" y="548" width="1" height="3" fill="#000"/>
<text x="1" y="560.3" font-size="9.3" fill="#000" text-anchor="start" font-weight="normal">5 Aug 2021</text>
<rect x="66" y="548" width="1" height="3" fill="#000"/>
<text x="65.5" y="560.3" font-size="9.3" fill="#000" text-anchor="start" font-weight="normal">15 Aug 2021</text>
<rect x="130" y="548" width="1" height="3" fill="#000"/>
<text x="129.5" y="560.3" font-size="9.3" fill="#000" text-anchor="start" font-weight="normal">24 Aug 2021</text>
<rect x="194" y="548" width="1" height="3" fill="#000"/>
<text x="193.5" y="560.3" font-size="9.3" fill="#000" text-anchor="start" font-weight="normal">2 Sep 2021</text>
<rect x="258" y="548" width="1" height="3" fill="#000"/>
<text x="257.5" y="560.3" font-size="9.3" fill="#000" text-anchor="start" font-weight="normal">12 Sep 2021</text>
<rect x="322" y="548" width="1" height="3" fill="#000"/>
<text x="321.5" y="560.3" font-size="9.3" fill="#000" text-anchor="start" font-weight="normal">21 Sep 2021</text>
<rect x="386" y="548" width="1" height="3" fill="#000"/>
<text x="385.5" y="560.3" font-size="9.3" fill="#000" text-anchor="start" font-weight="normal">30 Sep 2021</text>
<rect x="450" y="548" width="1" height="3" fill="#000"/>
<text x="449.5" y="560.3" font-size="9.3" fill="#000" text-anchor="start" font-weight="normal">10 Oct 2021</text>
<rect x="514" y="548" width="1" height="3" fill="#000"/>
<text x="513.5" y="560.3" font-size="9.3" fill="#000" text-anchor="start" font-weight="normal">19 Oct 2021</text>
<rect x="578" y="548" width="1" height="3" fill="#000"/>
<text x="577.5" y="560.3" font-size="9.3" fill="#000" text-anchor="start" font-weight="normal">28 Oct 2021</text>
<rect x="642" y="548" width="1" height="3" fill="#000"/>
<text x="641.5" y="560.3" font-size="9.3" fill="#000" text-anchor="start" font-weight="normal">7 Nov 2021</text>
<rect x="706" y="548" width="1" height="3" fill="#000"/>
<text x="705.5" y="560.3" font-size="9.3" fill="#000" text-anchor="start" font-weight="normal">16 Nov 2021</text>
<rect x="770" y="548" width="1" height="3" fill="#000"/>
<text x="769.5" y="560.3" font-size="9.3" fill="#000" text-anchor="start" font-weight="normal">25 Nov 2021</text>
<rect x="834" y="548" width="1" height="3" fill="#000"/>
<text x="833.5" y="560.3" font-size="9.3" fill="#000" text-anchor="start" font-weight="normal">5 Dec 2021</text>
<rect x="898" y="548" width="1" height="3" fill="#000"/>
<text x="897.5" y="560.3" font-size="9.3" fill="#000" text-anchor="start" font-weight="normal">14 Dec 2021</text>
<rect x="0" y="568" width="1204" height="1" fill="#e3e3e3"/>
<rect x="0" y="570" width="1204" height="26" fill="#f0f0f0"/>
<rect x="0" y="570" width="1204" height="1" fill="#000"/>
<rect x="0" y="590" width="1204" height="1" fill="#fbfbfb"/>
<rect x="0" y="594" width="1204" height="1" fill="#a0a0a0"/>
<rect x="319" y="571" width="1" height="19" fill="#d4d4d4"/>
<rect x="213" y="589" width="107" height="1" fill="#d4d4d4"/>
<rect x="211" y="570" width="108" height="19" fill="#000"/>
<rect x="212" y="570" width="106" height="18" fill="#fff"/>
<text x="13.299999999999999" y="585" font-size="12" fill="#7a7a7a" text-anchor="start" font-weight="normal" textLength="79.1" lengthAdjust="spacing">USDX,Weekly</text>
<text x="113.60000000000001" y="585" font-size="12" fill="#7a7a7a" text-anchor="start" font-weight="normal" textLength="86.0" lengthAdjust="spacing">EURUSD-,Daily</text>
<text x="330.5" y="585" font-size="12" fill="#7a7a7a" text-anchor="start" font-weight="normal" textLength="73.4" lengthAdjust="spacing">USDCHF-,H4</text>
<text x="425.9" y="585" font-size="12" fill="#7a7a7a" text-anchor="start" font-weight="normal" textLength="86.7" lengthAdjust="spacing">USDCAD-,Daily</text>
<text x="534.4000000000001" y="585" font-size="12" fill="#7a7a7a" text-anchor="start" font-weight="normal" textLength="88.9" lengthAdjust="spacing">USDCNH-,Daily</text>
<text x="645.4000000000001" y="585" font-size="12" fill="#7a7a7a" text-anchor="start" font-weight="normal" textLength="75.1" lengthAdjust="spacing">XAUUSD-,H4</text>
<text x="741.4000000000001" y="585" font-size="12" fill="#7a7a7a" text-anchor="start" font-weight="normal" textLength="58.2" lengthAdjust="spacing">UKOil-,H4</text>
<text x="822.8000000000001" y="585" font-size="12" fill="#7a7a7a" text-anchor="start" font-weight="normal" textLength="64.9" lengthAdjust="spacing">DJ30-,Daily</text>
<text x="909.7" y="585" font-size="12" fill="#7a7a7a" text-anchor="start" font-weight="normal" textLength="61.9" lengthAdjust="spacing">UK100-,H1</text>
<text x="221.2" y="585" font-size="12" fill="#000" text-anchor="start" font-weight="normal" textLength="87.1" lengthAdjust="spacing">AUDUSD-,Daily</text>
<rect x="103" y="573" width="1" height="14" fill="#5a5a5a"/>
<rect x="415" y="573" width="1" height="14" fill="#5a5a5a"/>
<rect x="523" y="573" width="1" height="14" fill="#5a5a5a"/>
<rect x="635" y="573" width="1" height="14" fill="#5a5a5a"/>
<rect x="731" y="573" width="1" height="14" fill="#5a5a5a"/>
<rect x="811" y="573" width="1" height="14" fill="#5a5a5a"/>
<rect x="899" y="573" width="1" height="14" fill="#5a5a5a"/>
<rect x="983" y="573" width="1" height="14" fill="#5a5a5a"/>
<polygon points="1183.5,576 1183.5,582 1180,579" fill="#8c8c8c"/>
<polygon points="1199,576 1199,582 1202.5,579" fill="#8c8c8c"/>
</svg>
</body></html>
